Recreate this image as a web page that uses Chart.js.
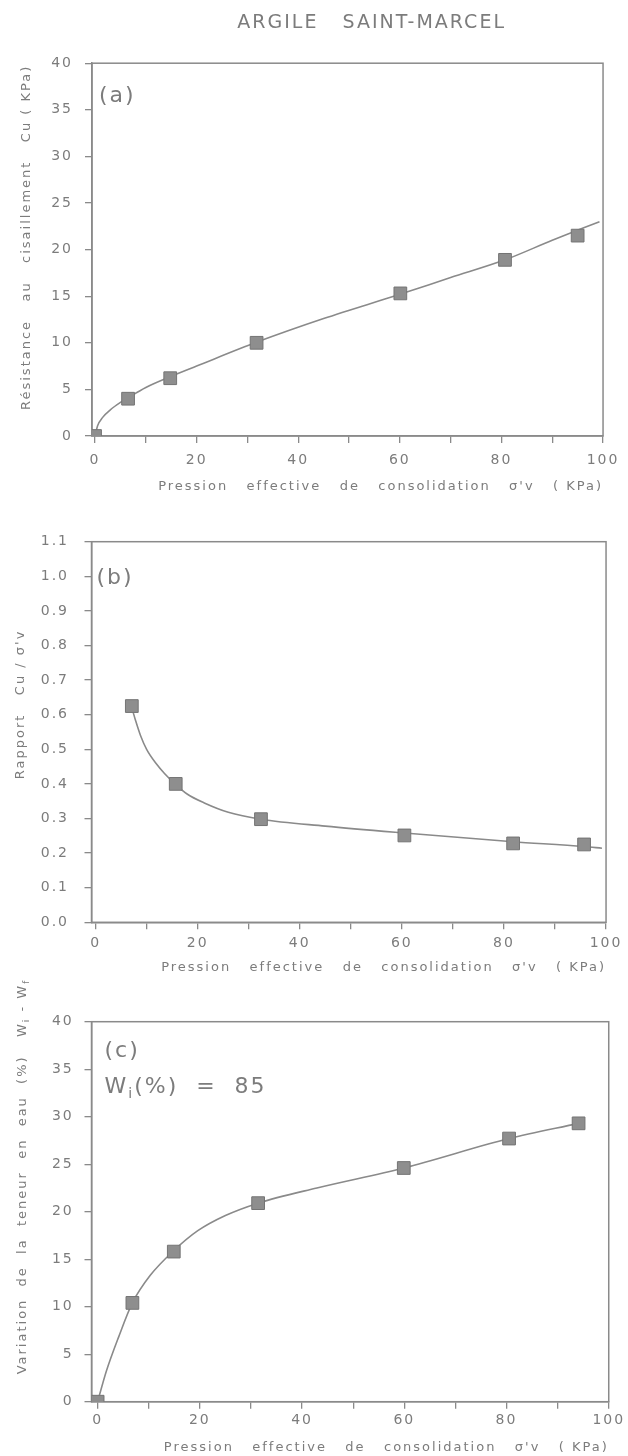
<!DOCTYPE html>
<html><head><meta charset="utf-8">
<script src="https://cdn.jsdelivr.net/npm/chart.js@4.4.1/dist/chart.umd.min.js"></script>
<style>
html,body{margin:0;padding:0;background:#fff;}
body{width:628px;height:1456px;position:relative;overflow:hidden;}
canvas{position:absolute;left:0;}
</style></head><body>
<canvas id="ca" width="628" height="505" style="top:0;width:628px;height:505px"></canvas>
<canvas id="cb" width="628" height="480" style="top:505px;width:628px;height:480px"></canvas>
<canvas id="cc" width="628" height="496" style="top:960px;width:628px;height:496px"></canvas>
<script>
// ---------- data ----------
const xTickValues = [0, 10, 20, 30, 40, 50, 60, 70, 80, 90, 100];
const xTickLabels = ['0', '', '20', '', '40', '', '60', '', '80', '', '100'];

// (a) Résistance au cisaillement Cu (KPa)
const pressionA = [0, 6.5, 14.8, 31.8, 60.1, 80.7, 95.0];
const cuA = [0, 4.0, 6.2, 10.0, 15.3, 18.9, 21.5];
const courbeAx = [0, 0.5, 1.5, 3, 5, 6.5, 10, 15, 20, 32, 45, 60, 70, 80.7, 90, 99.3];
const courbeAy = [0, 1.1, 2.0, 2.8, 3.6, 4.1, 5.2, 6.4, 7.5, 10.1, 12.6, 15.2, 17.0, 18.9, 21.0, 23.0];
const yTicksA = [0, 5, 10, 15, 20, 25, 30, 35, 40];
const yLabelsA = ['0', '5', '10', '15', '20', '25', '30', '35', '40'];

// (b) Rapport Cu / σ'v
const pressionB = [7.1, 15.7, 32.4, 60.5, 81.8, 95.7];
const rapportB = [0.625, 0.40, 0.298, 0.251, 0.228, 0.225];
const courbeBx = [7.1, 7.8, 8.8, 10, 11.9, 13.5, 15.7, 18, 21.3, 26, 32.4, 45, 60.5, 81.8, 95.7, 99.2];
const courbeBy = [0.62, 0.585, 0.54, 0.50, 0.458, 0.43, 0.398, 0.37, 0.345, 0.318, 0.298, 0.278, 0.258, 0.233, 0.219, 0.214];
const yTicksB = [0, 0.1, 0.2, 0.3, 0.4, 0.5, 0.6, 0.7, 0.8, 0.9, 1.0, 1.1];
const yLabelsB = ['0.0', '0.1', '0.2', '0.3', '0.4', '0.5', '0.6', '0.7', '0.8', '0.9', '1.0', '1.1'];

// (c) Variation de la teneur en eau (%) Wi - Wf
const pressionC = [0, 6.8, 14.9, 31.4, 59.9, 80.5, 94.1];
const deltaWC = [0, 10.4, 15.8, 20.9, 24.6, 27.7, 29.3];
const courbeCx = [0, 1.7, 4.1, 6.8, 10.3, 14.9, 19.6, 25, 31.4, 42.9, 59.9, 80.5, 94.1];
const courbeCy = [0, 3.2, 6.8, 10.4, 13.3, 15.9, 18.0, 19.6, 20.9, 22.5, 24.6, 27.7, 29.3];
const yTicksC = [0, 5, 10, 15, 20, 25, 30, 35, 40];
const yLabelsC = ['0', '5', '10', '15', '20', '25', '30', '35', '40'];

const figureTitle = '      ARGILE   SAINT-MARCEL';
const xTitle = "Pression   effective   de   consolidation   σ'v   ( KPa)";

// ---------- style ----------
const FONT = "'DejaVu Sans', sans-serif";
const TXT = '#7c7c7c';
const AX = '#8a8a8a';
const LINE = '#8a8a8a';
const MARK = '#8e8e8e';
const MARK_B = '#747474';

const spacing = {
  id: 'spacing',
  beforeUpdate(c) { c.ctx.letterSpacing = '2px'; },
  beforeDraw(c) { c.ctx.letterSpacing = '2px'; }
};
const frame = {
  id: 'frame',
  beforeDatasetsDraw(c) {
    const a = c.chartArea, ctx = c.ctx;
    ctx.save();
    ctx.strokeStyle = AX; ctx.lineWidth = 1.5;
    ctx.strokeRect(a.left, a.top, a.right - a.left, a.bottom - a.top);
    ctx.restore();
  }
};
function makeNotes(items) {
  return {
    id: 'notes',
    afterDraw(c) {
      const a = c.chartArea, ctx = c.ctx;
      ctx.save();
      ctx.letterSpacing = '2px';
      ctx.fillStyle = TXT;
      ctx.textBaseline = 'middle';
      ctx.textAlign = 'left';
      items.forEach(line => {
        ctx.save();
        let x;
        if (line.rotate) {
          // vertical axis label, centred on (cx, cy) in canvas pixels
          let total = 0;
          line.parts.forEach(part => { ctx.font = part.size + 'px ' + FONT; total += ctx.measureText(part.text).width; });
          ctx.translate(line.cx, line.cy);
          ctx.rotate(-Math.PI / 2);
          x = -total / 2;
        } else {
          ctx.translate(a.left + line.dx, a.top + line.dy);
          x = 0;
        }
        line.parts.forEach(part => {
          ctx.font = part.size + 'px ' + FONT;
          ctx.fillText(part.text, x, part.shift ? part.shift : 0);
          x += ctx.measureText(part.text).width;
        });
        ctx.restore();
      });
      ctx.restore();
    }
  };
}

function buildChart(id, p) {
  return new Chart(document.getElementById(id), {
    type: 'scatter',
    data: {
      datasets: [
        {
          data: p.curveX.map((x, i) => ({ x, y: p.curveY[i] })),
          showLine: true, pointRadius: 0, borderColor: LINE, borderWidth: 1.6,
          cubicInterpolationMode: 'monotone', fill: false, order: 2
        },
        {
          data: p.ptsX.map((x, i) => ({ x, y: p.ptsY[i] })),
          showLine: false, pointStyle: 'rect', pointRadius: 9,
          backgroundColor: MARK, borderColor: MARK_B, borderWidth: 1, order: 1
        }
      ]
    },
    options: {
      responsive: false, animation: false, events: [],
      layout: { padding: { left: 0, right: 628 - p.right, top: p.padTop, bottom: 0 } },
      plugins: {
        legend: { display: false },
        tooltip: { enabled: false },
        title: p.title ? {
          display: true, text: p.title, fullSize: false, color: TXT,
          font: { family: FONT, size: 19, weight: 'normal', lineHeight: 1.2 },
          padding: { top: 12, bottom: 28.4 }
        } : { display: false }
      },
      scales: {
        x: {
          type: 'linear', position: 'bottom', min: p.xMin, max: 100,
          afterBuildTicks: s => { s.ticks = xTickValues.map(v => ({ value: v })); },
          afterFit: s => { s.height = p.xAxisH; },
          ticks: {
            autoSkip: false, maxRotation: 0, padding: p.xTickPad, color: TXT,
            font: { family: FONT, size: 14, lineHeight: 1.2 },
            callback: (v, i) => xTickLabels[i]
          },
          grid: { drawOnChartArea: false, tickLength: 7, color: AX, lineWidth: 1.3 },
          border: { color: AX, width: 1.5 },
          title: {
            display: true, text: xTitle, align: 'end', color: TXT,
            font: { family: FONT, size: 13, lineHeight: 1.2 },
            padding: { top: 0, bottom: p.xTitlePadB }
          }
        },
        y: {
          type: 'linear', position: 'left', min: p.yMin, max: p.yMax,
          afterBuildTicks: s => { s.ticks = p.yTicks.map(v => ({ value: v })); },
          afterFit: s => { s.width = p.left; },
          ticks: {
            autoSkip: false, padding: p.yTickPad, color: TXT,
            font: { family: FONT, size: 14, lineHeight: 1.2 },
            callback: (v, i) => p.yLabels[i]
          },
          grid: { drawOnChartArea: false, tickLength: 7, color: AX, lineWidth: 1.3 },
          border: { color: AX, width: 1.5 },
          title: {
            display: !!p.yTitle, text: p.yTitle || '', color: TXT,
            font: { family: FONT, size: 13, lineHeight: 1.2 },
            padding: { top: p.yTitlePadT, bottom: 0 }
          }
        }
      }
    },
    plugins: [spacing, frame, makeNotes(p.notes)]
  });
}

buildChart('ca', {
  title: figureTitle, padTop: 0, left: 92, right: 610, xMin: -0.6,
  yMin: 0, yMax: 40, yTicks: yTicksA, yLabels: yLabelsA,
  ptsX: pressionA, ptsY: cuA, curveX: courbeAx, curveY: courbeAy,
  xAxisH: 69, xTickPad: 8.6, xTitlePadB: 10.2, yTickPad: 12, yTitlePadT: 19.2,
  yTitle: '    Résistance   au   cisaillement   Cu ( KPa)',
  notes: [{ dx: 7, dy: 33, parts: [{ text: '(a)', size: 22 }] }]
});
buildChart('cb', {
  title: null, padTop: 36.7, left: 91.5, right: 609, xMin: -0.8,
  yMin: 0, yMax: 1.1, yTicks: yTicksB, yLabels: yLabelsB,
  ptsX: pressionB, ptsY: rapportB, curveX: courbeBx, curveY: courbeBy,
  xAxisH: 62.7, xTickPad: 5.6, xTitlePadB: 9.2, yTickPad: 15.5, yTitlePadT: 12.7,
  yTitle: "         Rapport   Cu / σ'v",
  notes: [{ dx: 5, dy: 37, parts: [{ text: '(b)', size: 22 }] }]
});
buildChart('cc', {
  title: null, padTop: 61.7, left: 91.5, right: 610, xMin: -1.2,
  yMin: 0, yMax: 40, yTicks: yTicksC, yLabels: yLabelsC,
  ptsX: pressionC, ptsY: deltaWC, curveX: courbeCx, curveY: courbeCy,
  xAxisH: 54.3, xTickPad: 2.9, xTitlePadB: 0.5, yTickPad: 10.8, yTitlePadT: 14.7,
  yTitle: null,
  notes: [
    { rotate: true, cx: 23, cy: 216.5, parts: [
      { text: 'Variation  de  la  teneur  en  eau  (%)   W', size: 13 },
      { text: 'i', size: 9, shift: 4 },
      { text: ' - W', size: 13 },
      { text: 'f', size: 9, shift: 4 }
    ] },
    { dx: 13, dy: 29.5, parts: [{ text: '(c)', size: 22 }] },
    { dx: 13, dy: 66, parts: [{ text: 'W', size: 22 }, { text: 'i', size: 14, shift: 7 }, { text: '(%)  =  85', size: 22 }] }
  ]
});
</script>
</body></html>
